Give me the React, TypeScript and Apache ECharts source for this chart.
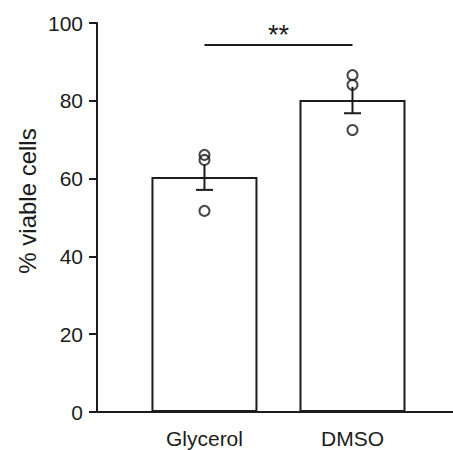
import React, { useEffect, useRef } from "react";
import * as echarts from "echarts";

const categories = ["Glycerol", "DMSO"];
const meanValues = [60.4, 80.2];
const semValues = [3.3, 3.4];
const glycerolPoints = [66.1, 64.8, 51.7];
const dmsoPoints = [86.6, 84.1, 72.5];
const yTicks = [0, 20, 40, 60, 80, 100];
const significance = { label: "**", y: 94.5 };

const ink = "#1c1c1c";
const font = "Liberation Sans, Arial, sans-serif";

export default function App() {
  const ref = useRef<HTMLDivElement>(null);
  useEffect(() => {
    if (!ref.current) return;
    const chart = echarts.init(ref.current, undefined, { renderer: "svg" });
    const barData = meanValues.map((v, i) => [i, v]);
    const errData = meanValues.map((v, i) => [i, v - semValues[i], v + semValues[i]]);
    const pts: number[][] = [];
    glycerolPoints.forEach((v) => pts.push([0, v]));
    dmsoPoints.forEach((v) => pts.push([1, v]));
    chart.setOption({
      animation: false,
      backgroundColor: "#ffffff",
      grid: { left: 97, right: 0, top: 23, bottom: 38 },
      xAxis: {
        type: "value",
        min: -0.726,
        max: 1.679,
        splitLine: { show: false },
        axisLine: { show: true, onZero: false, lineStyle: { color: ink, width: 2 } },
        axisTick: { show: false },
        axisLabel: {
          customValues: [0, 1],
          formatter: (v: number) => categories[Math.round(v)] ?? "",
          color: ink,
          fontFamily: font,
          fontSize: 21,
          margin: 16,
        },
      },
      yAxis: {
        type: "value",
        min: 0,
        max: 100,
        interval: 20,
        splitLine: { show: false },
        axisLine: { show: true, onZero: false, lineStyle: { color: ink, width: 2 } },
        axisTick: { show: true, length: 8, lineStyle: { color: ink, width: 2 } },
        axisLabel: {
          formatter: (v: number) => (yTicks.includes(v) ? String(v) : ""),
          color: ink,
          fontFamily: font,
          fontSize: 21,
          margin: 14,
        },
      },
      graphic: [
        {
          type: "text",
          x: 27,
          y: 201,
          rotation: Math.PI / 2,
          style: {
            text: "% viable cells",
            fill: ink,
            font: `24px ${font}`,
            align: "center",
            verticalAlign: "middle",
          },
        },
      ],
      series: [
        {
          type: "bar",
          data: barData,
          barWidth: 106,
          itemStyle: { color: "#ffffff", borderColor: ink, borderWidth: 2 },
          markLine: {
            silent: true,
            symbol: ["none", "none"],
            lineStyle: { color: ink, width: 2, type: "solid" },
            label: {
              show: true,
              position: "middle",
              formatter: significance.label,
              color: ink,
              fontFamily: font,
              fontSize: 27,
              distance: -4,
            },
            data: [[{ coord: [0, significance.y] }, { coord: [1, significance.y] }]],
          },
          z: 1,
        },
        {
          type: "custom",
          data: errData,
          renderItem: (params: any, api: any) => {
            const x = api.value(0);
            const lo = api.coord([x, api.value(1)]);
            const hi = api.coord([x, api.value(2)]);
            const cap = 8.5;
            return {
              type: "group",
              children: [
                { type: "line", shape: { x1: lo[0], y1: lo[1], x2: hi[0], y2: hi[1] }, style: { stroke: ink, lineWidth: 2 } },
                { type: "line", shape: { x1: lo[0] - cap, y1: lo[1], x2: lo[0] + cap, y2: lo[1] }, style: { stroke: ink, lineWidth: 2 } },
              ],
            };
          },
          z: 2,
        },
        {
          type: "scatter",
          data: pts,
          symbol: "circle",
          symbolSize: 10,
          itemStyle: { color: "rgba(255,255,255,0)", borderColor: ink, borderWidth: 2 },
          z: 3,
        },
      ],
    });
    return () => chart.dispose();
  }, []);
  return (
    <div
      ref={ref}
      style={{ position: "fixed", left: 0, top: 0, width: 453, height: 450, background: "#fff" }}
    />
  );
}
